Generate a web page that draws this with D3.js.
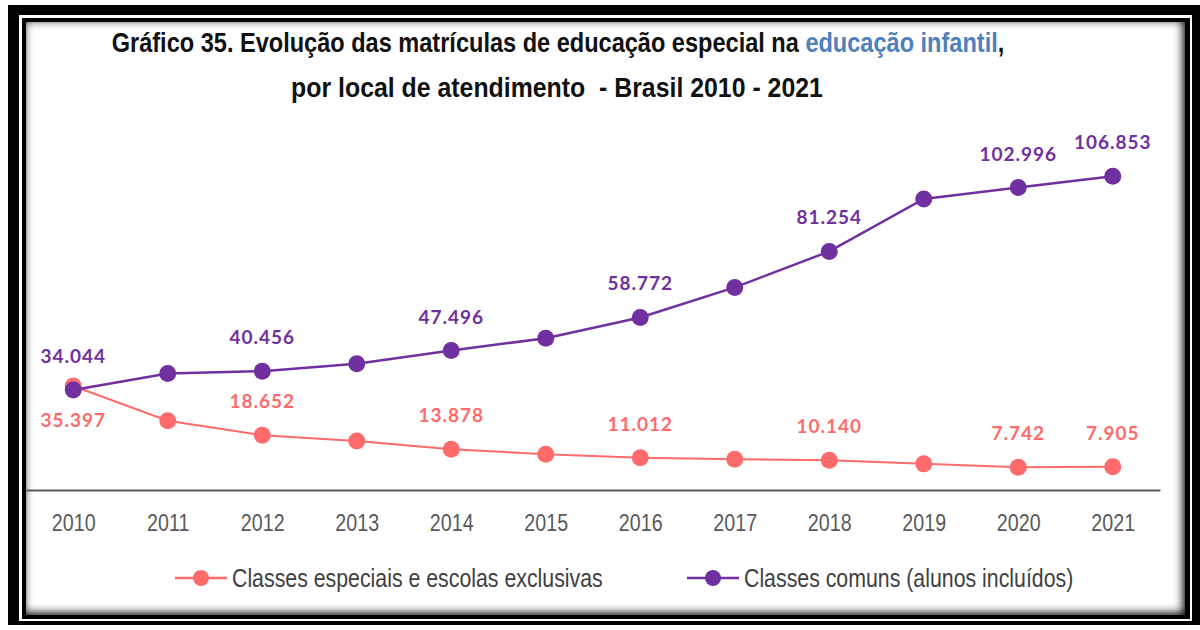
<!DOCTYPE html>
<html>
<head>
  <meta charset="UTF-8">
  <title>Gráfico 35</title>
  <script src="https://d3js.org/d3.v7.min.js"></script>
  <style>
    body {
      margin: 0;
      padding: 0;
      background: #fff;
    }
    svg {
      display: block;
    }
    .narrow {
      font-family: "Liberation Sans", Arial, sans-serif;
    }
    .lbl {
      font-family: Lato, "Open Sans", sans-serif;
      font-weight: 700;
      font-size: 19px;
      letter-spacing: 1px;
    }
  </style>
</head>
<body>

<script>
  const width = 1200;
  const height = 630;

  // data
  const years = [2010, 2011, 2012, 2013, 2014, 2015, 2016, 2017, 2018, 2019, 2020, 2021];
  const especiais = [35397, 23600, 18652, 16700, 13878, 12200, 11012, 10500, 10140, 8900, 7742, 7905];
  const comuns = [34044, 39700, 40456, 43000, 47496, 51700, 58772, 69000, 81254, 99100, 102996, 106853];
  const labeledYears = [2010, 2012, 2014, 2016, 2018, 2020, 2021];
  const seriesNames = ["Classes especiais e escolas exclusivas", "Classes comuns (alunos incluídos)"];
  const seriesColors = ["#FF6B6B", "#7030A0"];

  const narrowScale = 0.82; // fake "Arial Narrow"

  const svg = d3.select("body")
    .append("svg")
    .attr("width", width)
    .attr("height", height);

  // frame
  svg.append("rect").attr("width", width).attr("height", height).attr("fill", "#fff");
  svg.append("rect").attr("x", 8).attr("y", 5).attr("width", 1192).attr("height", 620).attr("fill", "#000");
  svg.append("rect").attr("x", 19).attr("y", 15).attr("width", 1173).attr("height", 606).attr("fill", "#fff");
  svg.append("rect").attr("x", 22).attr("y", 18).attr("width", 1168).attr("height", 601).attr("fill", "#000");

  const inner = {x: 26, y: 22, w: 1159, h: 593};
  const defs = svg.append("defs");
  defs.append("clipPath").attr("id", "innerClip")
    .append("rect").attr("x", inner.x).attr("y", inner.y).attr("width", inner.w).attr("height", inner.h);
  defs.append("filter").attr("id", "blur").attr("x", "-5%").attr("y", "-5%").attr("width", "110%").attr("height", "110%")
    .append("feGaussianBlur").attr("stdDeviation", 5);

  svg.append("rect").attr("x", inner.x).attr("y", inner.y).attr("width", inner.w).attr("height", inner.h).attr("fill", "#fff");
  svg.append("g").attr("clip-path", "url(#innerClip)")
    .append("rect")
    .attr("x", inner.x - 12).attr("y", inner.y - 12)
    .attr("width", inner.w + 20).attr("height", inner.h + 20)
    .attr("fill", "none").attr("stroke", "#000").attr("stroke-width", 20)
    .attr("filter", "url(#blur)");

  // title (squeezed to the reference widths)
  function squeezed(parent, cx, cy, targetW) {
    const g = parent.append("g").attr("transform", `translate(${cx},${cy})`);
    const t = g.append("text").attr("text-anchor", "middle").attr("xml:space", "preserve");
    return {t, fit: () => t.attr("transform", `scale(${targetW / t.node().getComputedTextLength()},1)`)};
  }
  const title = svg.append("g").attr("class", "narrow")
    .attr("font-weight", 700).attr("font-size", 27.5).attr("fill", "#111");
  const l1 = squeezed(title, 558, 52, 893);
  l1.t.append("tspan").text("Gráfico 35. Evolução das matrículas de educação especial na ");
  l1.t.append("tspan").attr("fill", "#4F81BD").text("educação infantil");
  l1.t.append("tspan").text(",");
  l1.fit();
  const l2 = squeezed(title, 557, 97, 532);
  l2.t.text("por local de atendimento  - Brasil 2010 - 2021");
  l2.fit();

  // scales
  const x = d3.scalePoint().domain(years).range([26, 1160]).padding(0.5);
  const y = d3.scaleLinear().domain([0, 110000]).range([490, 167]);

  const fmt = d3.formatLocale({decimal: ",", thousands: ".", grouping: [3], currency: ["R$", ""]}).format(",d");

  // axis
  const xAxis = svg.append("g")
    .attr("transform", `translate(0,${y(0)})`)
    .call(d3.axisBottom(x).tickSize(0).tickPadding(0));
  xAxis.select(".domain").attr("stroke", "#595959").attr("stroke-width", 2);
  xAxis.selectAll("text")
    .attr("class", "narrow")
    .attr("font-size", 24)
    .attr("fill", "#595959")
    .attr("y", 0)
    .attr("dy", 0)
    .attr("transform", `translate(0,41) scale(${narrowScale},1)`);

  const line = d3.line().x((d, i) => x(years[i])).y(d => y(d));

  const series = [especiais, comuns];
  series.forEach((vals, s) => {
    svg.append("path")
      .attr("d", line(vals))
      .attr("fill", "none")
      .attr("stroke", seriesColors[s])
      .attr("stroke-width", s === 1 ? 2.5 : 2);
    svg.append("g").selectAll("circle")
      .data(vals)
      .join("circle")
      .attr("cx", (d, i) => x(years[i]))
      .attr("cy", d => y(d))
      .attr("r", 8.5)
      .attr("fill", seriesColors[s]);
  });

  // data labels
  series.forEach((vals, s) => {
    svg.append("g").attr("class", "lbl").attr("text-anchor", "middle").attr("fill", seriesColors[s])
      .selectAll("text")
      .data(vals.map((v, i) => ({year: years[i], v})).filter(d => labeledYears.includes(d.year)))
      .join("text")
      .attr("x", d => x(d.year))
      .attr("y", d => (s === 0 && d.year === 2010) ? y(d.v) + 41 : y(d.v) - 27)
      .text(d => fmt(d.v));
  });

  // legend
  const legendX = [201, 713];
  const legend = svg.append("g").selectAll("g")
    .data(seriesNames)
    .join("g")
    .attr("transform", (d, i) => `translate(${legendX[i]},578)`);
  legend.append("line")
    .attr("x1", -26).attr("x2", 26)
    .attr("stroke", (d, i) => seriesColors[i]).attr("stroke-width", 2.5);
  legend.append("circle").attr("r", 8).attr("fill", (d, i) => seriesColors[i]);
  legend.append("text")
    .attr("class", "narrow")
    .attr("transform", `translate(31,9) scale(${narrowScale},1)`)
    .attr("font-size", 26)
    .attr("fill", "#404040")
    .text(d => d);
</script>

</body>
</html>
